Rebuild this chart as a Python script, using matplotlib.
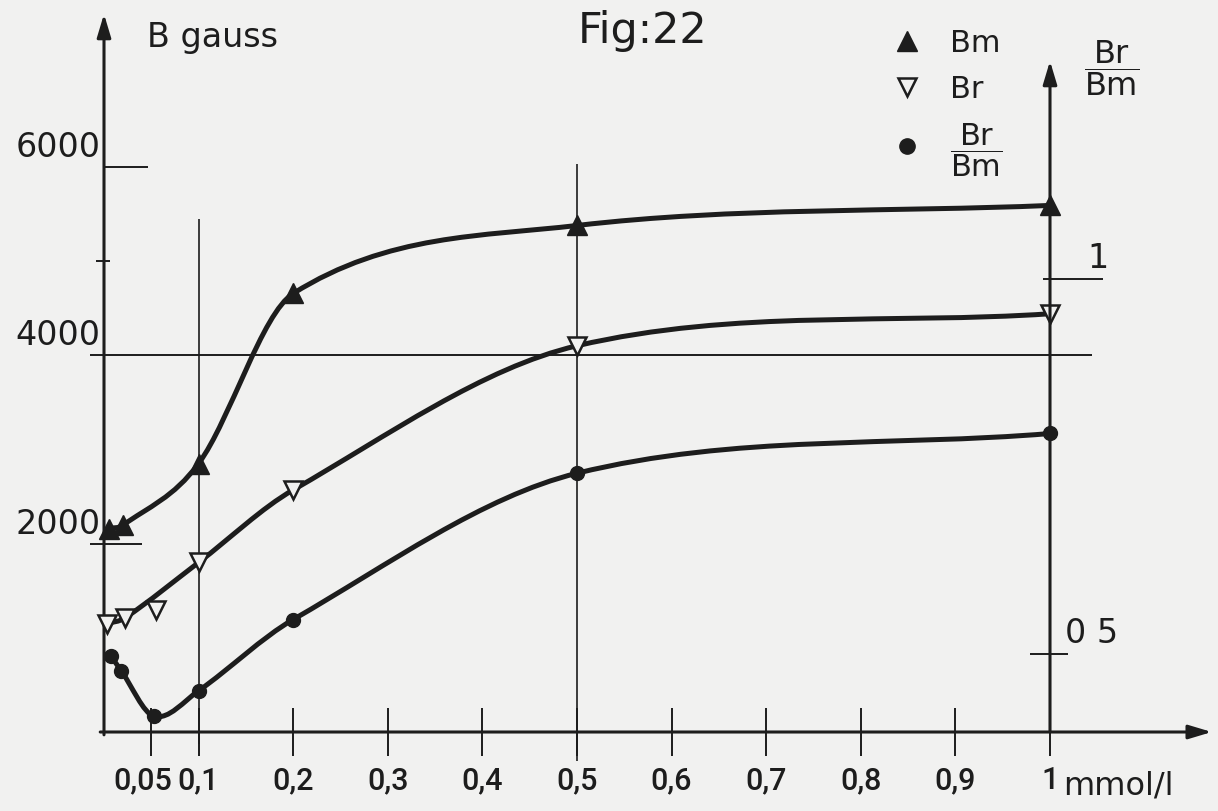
import numpy as np
import matplotlib
matplotlib.use('Agg')
import matplotlib.pyplot as plt
from matplotlib.path import Path
from matplotlib.patches import PathPatch
from matplotlib.lines import Line2D
from matplotlib.transforms import ScaledTranslation

plt.rcParams['font.family'] = ['DejaVu Sans']
plt.rcParams['mathtext.fontset'] = 'custom'
plt.rcParams['mathtext.rm'] = 'DejaVu Sans'

INK = '#1d1d1d'
PAPER = '#f1f1f0'

# Bm (maximum induction), gauss
bm_conc = [0.005, 0.02, 0.1, 0.2, 0.5, 1.0]
bm_gauss = [2160, 2195, 2850, 4655, 5377, 5590]

# Br (remanence), gauss - third point lies off the drawn curve
br_conc = [0.003, 0.022, 0.055, 0.1, 0.2, 0.5, 1.0]
br_gauss = [1150, 1210, 1290, 1800, 2570, 4100, 4440]
br_on_curve = [True, True, False, True, True, True, True]

# Br/Bm, right hand scale
ratio_conc = [0.007, 0.018, 0.053, 0.1, 0.2, 0.5, 1.0]
ratio_val = [0.498, 0.478, 0.417, 0.451, 0.546, 0.741, 0.794]

x_ticks = [0.05, 0.1, 0.2, 0.3, 0.4, 0.5, 0.6, 0.7, 0.8, 0.9, 1.0]
x_tick_labels = ['0,05', '0,1', '0,2', '0,3', '0,4', '0,5',
                 '0,6', '0,7', '0,8', '0,9', '1']
g_ticks = [2000, 4000, 5000, 6000]
g_tick_labels = ['2000', '4000', '', '6000']
r_ticks = [0.5, 1.0]
r_tick_labels = ['0 5', '1']


def G_TO_R(g):
    # right scale: 0.5 sits at 828 gauss, 1 at 4790 gauss
    return 0.5 + (g - 828) / 7962


def smooth_path(x, y):
    # hand drawn french-curve look: cubic pieces through the measured points
    x = np.asarray(x, float)
    y = np.asarray(y, float)
    m = np.empty(len(x))
    m[1:-1] = (y[2:] - y[:-2]) / (x[2:] - x[:-2])
    m[0] = (y[1] - y[0]) / (x[1] - x[0])
    m[-1] = (y[-1] - y[-2]) / (x[-1] - x[-2])
    verts = [(x[0], y[0])]
    codes = [Path.MOVETO]
    for i in range(len(x) - 1):
        h = (x[i + 1] - x[i]) / 3
        verts += [(x[i] + h, y[i] + m[i] * h),
                  (x[i + 1] - h, y[i + 1] - m[i + 1] * h),
                  (x[i + 1], y[i + 1])]
        codes += [Path.CURVE4] * 3
    return Path(verts, codes)


fig = plt.figure(figsize=(12.18, 8.12), dpi=100, facecolor=PAPER)
ax = fig.add_axes([0, 0, 1, 1])
ax.set_facecolor(PAPER)
ax.set_xlim(-0.10994, 1.17759)
ax.set_ylim(-838.6, 7781.3)

for side in ['top', 'right', 'left', 'bottom']:
    ax.spines[side].set_visible(False)
ax.spines['bottom'].set_position(('data', 0))
ax.spines['left'].set_position(('data', 0))
ax.set_yticks([])
ax.set_xticks(x_ticks, x_tick_labels)
ax.tick_params(axis='x', direction='inout', length=34, width=1.4,
               color=INK, labelcolor=INK, pad=7)
for lbl in ax.get_xticklabels():
    lbl.set_fontfamily(['Roboto', 'DejaVu Sans'])
    lbl.set_fontsize(22)
    lbl.set_fontweight('medium')
# the 0,05 label sits a little left of its tick, clear of 0,1
first = ax.xaxis.get_major_ticks()[0].label1
first.set_transform(first.get_transform() +
                    ScaledTranslation(-6 / 72, 0, fig.dpi_scale_trans))

axr = ax.twinx()
axr.set_ylim(G_TO_R(-838.6), G_TO_R(7781.3))
axr.axis('off')

arrow = dict(arrowstyle='-|>,head_length=1.0,head_width=0.3', lw=2.2,
             color=INK, shrinkA=0, shrinkB=0, mutation_scale=14)
# axes with arrow heads
ax.annotate('', xy=(0, 7622), xytext=(0, -30), arrowprops=arrow)
ax.annotate('', xy=(1.171, 0), xytext=(-0.004, 0), arrowprops=arrow)
axr.annotate('', xy=(1.0, G_TO_R(7123)), xytext=(1.0, G_TO_R(0)),
             arrowprops=arrow)

# left scale ticks (hand drawn, uneven lengths)
tick_span = {2000: (-0.015, 0.04), 4000: (-0.015, 1.044),
             5000: (-0.008, 0.006), 6000: (0.0, 0.047)}
for g, lab in zip(g_ticks, g_tick_labels):
    lo, hi = tick_span[g]
    ax.hlines(g, lo, hi, color=INK, lw=1.4)
    if lab:
        ax.text(-0.004, g + 40, lab, ha='right', va='bottom',
                fontsize=24, color=INK)

# guide lines at 0,1 and 0,5
ax.vlines(0.1, -127, 5446, color=INK, lw=1.2)
ax.vlines(0.5, -308, 6030, color=INK, lw=1.2)

# right scale ticks
r_span = {0.5: (0.979, 1.019), 1.0: (0.9926, 1.056)}
r_lab_x = {0.5: 1.016, 1.0: 1.040}
for r, lab in zip(r_ticks, r_tick_labels):
    lo, hi = r_span[r]
    axr.hlines(r, lo, hi, color=INK, lw=1.4)
    axr.text(r_lab_x[r], r + 0.007, lab, ha='left', va='bottom',
             fontsize=24, color=INK)

# curves
curve_kw = dict(facecolor='none', edgecolor=INK, lw=3.6,
                capstyle='round', joinstyle='round', zorder=2)
ax.add_patch(PathPatch(smooth_path(bm_conc, bm_gauss), **curve_kw))
br_cx = [c for c, k in zip(br_conc, br_on_curve) if k]
br_cy = [g for g, k in zip(br_gauss, br_on_curve) if k]
ax.add_patch(PathPatch(smooth_path(br_cx, br_cy), **curve_kw))
axr.add_patch(PathPatch(smooth_path(ratio_conc, ratio_val), **curve_kw))

# measured points
ax.plot(bm_conc, bm_gauss, ls='none', marker='^', ms=14, color=INK, zorder=3)
ax.plot(br_conc, br_gauss, ls='none', marker='v', ms=13, mfc=PAPER,
        mec=INK, mew=1.8, zorder=3)
axr.plot(ratio_conc, ratio_val, ls='none', marker='o', ms=10, color=INK,
         zorder=3)

# texts
ax.text(0.0455, 7282, 'B gauss', fontsize=24, ha='left', va='baseline',
        color=INK)
ax.text(0.501, 7325, 'Fig:22', fontsize=31, ha='left', va='baseline',
        color=INK)
ax.text(1.0655, 7059, r'$\dfrac{\mathrm{Br}}{\mathrm{Bm}}$', fontsize=23,
        ha='center', va='center', color=INK)
ax.text(1.0137, -658, 'mmol/l', fontsize=23, ha='left', va='baseline',
        color=INK)

handles = [
    Line2D([], [], ls='none', marker='^', ms=14, color=INK),
    Line2D([], [], ls='none', marker='v', ms=13, mfc=PAPER, mec=INK, mew=1.8),
    Line2D([], [], ls='none', marker='o', ms=11, color=INK),
]
labels = ['Bm', 'Br', r'$\dfrac{\mathrm{Br}}{\mathrm{Bm}}$']
fig.legend(handles, labels, loc='upper left',
           bbox_to_anchor=(864 / 1218, 1 - 2 / 812), frameon=False,
           fontsize=22, handlelength=1.0, handletextpad=0.9,
           labelspacing=0.55, labelcolor=INK)

fig.savefig('out.png', dpi=100, facecolor=PAPER)
